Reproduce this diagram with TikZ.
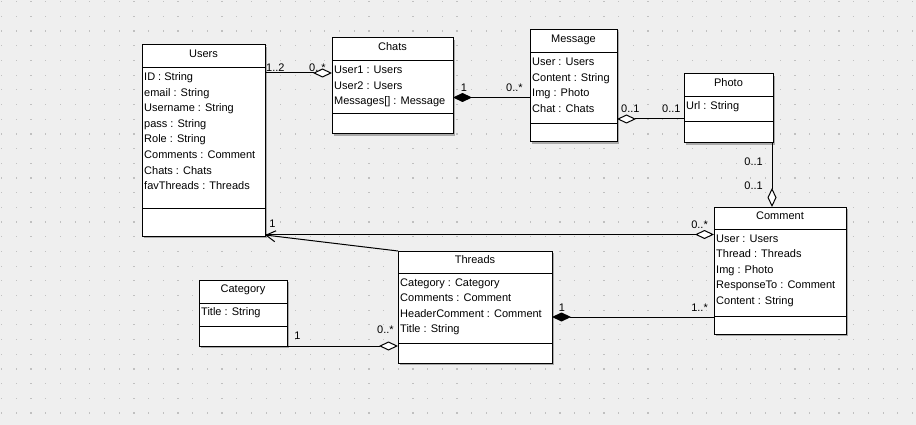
\documentclass[tikz,border=0pt]{standalone}
\usepackage{fontspec}
\setmainfont{Liberation Sans}
\usetikzlibrary{arrows.meta}
\definecolor{bgc}{RGB}{239,239,239}
\definecolor{dotc}{RGB}{192,192,192}
\definecolor{shadowc}{RGB}{170,170,170}
\newcommand\ufont{\fontsize{11}{13}\selectfont}
\tikzset{
  cls/.style={draw=black, line width=1pt, fill=white, inner sep=0pt, outer sep=0pt, anchor=north west},
  clsshadow/.style={fill=shadowc, draw=none},
  ttl/.style={anchor=base, inner sep=0pt, font=\ufont},
  attr/.style={anchor=base west, inner sep=0pt, font=\ufont},
  lbl/.style={anchor=base west, inner sep=0pt, font=\ufont},
  conn/.style={draw=black, line width=1pt},
  odiam/.style={conn, {Diamond[length=19pt,width=9pt,fill=white]}-},
  fdiam/.style={conn, {Diamond[length=19pt,width=9pt,fill=black]}-},
  barbend/.style={conn, -{Straight Barb[length=9.5pt,width=11pt]}},
}
\begin{document}
\begin{tikzpicture}[x=1pt,y=-1pt]
\useasboundingbox (0,0) rectangle (916,425);
\fill[bgc] (0,0) rectangle (916,425);
% dotted grid
\foreach \i in {0,...,62}{
  \foreach \j in {0,...,28}{
    \fill[dotc] ({1.1+14.69*\i},{1.1+14.69*\j}) rectangle ++(1.2,1.2);
  }
}
% shadows
\foreach \l/\t/\r/\b in {142/45/265/236, 332/38/453/134, 530/30/617/142, 684/74/773/143, 714/207/846/334, 398/251/552/363, 199/280/287/346}{
  \fill[clsshadow] (\l+2,\t+2) rectangle (\r+2,\b+2);
}
% ---- Users
\node[cls, minimum width=123pt, minimum height=191pt] (users) at (142,45) {};
\draw[line width=1pt] ([yshift=-23pt]users.north west) -- ([yshift=-23pt]users.north east);
\draw[line width=1pt] ([yshift=28pt]users.south west) -- ([yshift=28pt]users.south east);
\node[ttl] (usersT) at (203.5,57.5) {Users};
\node[attr] (u1) at (144,80.5) {ID : String};
\node[attr] (u2) at (144,96.1) {email : String};
\node[attr] (u3) at (144,111.7) {Username : String};
\node[attr] (u4) at (144,127.3) {pass : String};
\node[attr] (u5) at (144,142.9) {Role : String};
\node[attr] (u6) at (144,158.5) {Comments : Comment};
\node[attr] (u7) at (144,174.1) {Chats : Chats};
\node[attr] (u8) at (144,189.7) {favThreads : Threads};
% ---- Chats
\node[cls, minimum width=121pt, minimum height=96pt] (chats) at (332,38) {};
\draw[line width=1pt] ([yshift=-23pt]chats.north west) -- ([yshift=-23pt]chats.north east);
\draw[line width=1pt] ([yshift=20pt]chats.south west) -- ([yshift=20pt]chats.south east);
\node[ttl] (chatsT) at (392.5,50.5) {Chats};
\node[attr] (c1) at (334,73.5) {User1 : Users};
\node[attr] (c2) at (334,89.1) {User2 : Users};
\node[attr] (c3) at (334,104.7) {Messages[] : Message};
% ---- Message
\node[cls, minimum width=87pt, minimum height=112pt] (message) at (530,30) {};
\draw[line width=1pt] ([yshift=-23pt]message.north west) -- ([yshift=-23pt]message.north east);
\draw[line width=1pt] ([yshift=18pt]message.south west) -- ([yshift=18pt]message.south east);
\node[ttl] (messageT) at (573.5,42.5) {Message};
\node[attr] (m1) at (532,65.5) {User : Users};
\node[attr] (m2) at (532,81.1) {Content : String};
\node[attr] (m3) at (532,96.7) {Img : Photo};
\node[attr] (m4) at (532,112.3) {Chat : Chats};
% ---- Photo
\node[cls, minimum width=89pt, minimum height=69pt] (photo) at (684,74) {};
\draw[line width=1pt] ([yshift=-23pt]photo.north west) -- ([yshift=-23pt]photo.north east);
\draw[line width=1pt] ([yshift=21pt]photo.south west) -- ([yshift=21pt]photo.south east);
\node[ttl] (photoT) at (728.5,86.5) {Photo};
\node[attr] (p1) at (686,109.5) {Url : String};
% ---- Comment
\node[cls, minimum width=132pt, minimum height=127pt] (comment) at (714,207) {};
\draw[line width=1pt] ([yshift=-22pt]comment.north west) -- ([yshift=-22pt]comment.north east);
\draw[line width=1pt] ([yshift=18pt]comment.south west) -- ([yshift=18pt]comment.south east);
\node[ttl] (commentT) at (780,219.5) {Comment};
\node[attr] (k1) at (716,242) {User : Users};
\node[attr] (k2) at (716,257.6) {Thread : Threads};
\node[attr] (k3) at (716,273.2) {Img : Photo};
\node[attr] (k4) at (716,288.8) {ResponseTo : Comment};
\node[attr] (k5) at (716,304.4) {Content : String};
% ---- Threads
\node[cls, minimum width=154pt, minimum height=112pt] (threads) at (398,251) {};
\draw[line width=1pt] ([yshift=-22pt]threads.north west) -- ([yshift=-22pt]threads.north east);
\draw[line width=1pt] ([yshift=20pt]threads.south west) -- ([yshift=20pt]threads.south east);
\node[ttl] (threadsT) at (475,263.5) {Threads};
\node[attr] (t1) at (400,286) {Category : Category};
\node[attr] (t2) at (400,301.6) {Comments : Comment};
\node[attr] (t3) at (400,317.2) {HeaderComment : Comment};
\node[attr] (t4) at (400,332.8) {Title : String};
% ---- Category
\node[cls, minimum width=88pt, minimum height=66pt] (category) at (199,280) {};
\draw[line width=1pt] ([yshift=-23pt]category.north west) -- ([yshift=-23pt]category.north east);
\draw[line width=1pt] ([yshift=20pt]category.south west) -- ([yshift=20pt]category.south east);
\node[ttl] (categoryT) at (243,292.5) {Category};
\node[attr] (g1) at (201,315.5) {Title : String};
% ---- connectors
% Users - Chats
\draw[odiam] ([yshift=-35pt]chats.north west) -- ([yshift=-28pt]users.north east);
\node[lbl] (l1) at (266,71.5) {1..2};
\node[lbl] (l2) at (309,71.5) {0..*};
% Chats - Message
\draw[fdiam] ([yshift=-59.5pt]chats.north east) -- ([yshift=-67.5pt]message.north west);
\node[ttl] (l3) at (464,91.5) {1};
\node[lbl] (l4) at (506,91.5) {0..*};
% Message - Photo
\draw[odiam] ([yshift=-89pt]message.north east) -- ([yshift=-45pt]photo.north west);
\node[lbl] (l5) at (621,112.5) {0..1};
\node[lbl] (l6) at (662,112.5) {0..1};
% Photo - Comment
\draw[odiam] ([xshift=58pt]comment.north west) -- ([xshift=-1pt]photo.south east);
\node[lbl, anchor=base east] (l7) at (763,166) {0..1};
\node[lbl, anchor=base east] (l8) at (763,189.5) {0..1};
% Comment - Users
\draw[odiam] ([yshift=-27.5pt]comment.north west) -- ([yshift=1.5pt]users.south east);
\node[lbl, anchor=base east] (l9) at (708,228.5) {0..*};
\node[ttl] (l10) at (272.5,227.5) {1};
% Threads - Users
\draw[barbend] (threads.north west) -- ([yshift=1pt]users.south east);
% Threads - Comment
\draw[fdiam] ([yshift=-66pt]threads.north east) -- ([yshift=17pt]comment.south west);
\node[ttl] (l11) at (562,311.5) {1};
\node[lbl, anchor=base east] (l12) at (708,311.5) {1..*};
% Category - Threads
\draw[odiam] ([yshift=17pt]threads.south west) -- (category.south east);
\node[ttl] (l13) at (297.5,339.5) {1};
\node[lbl] (l14) at (377,333.5) {0..*};
\end{tikzpicture}
\end{document}
